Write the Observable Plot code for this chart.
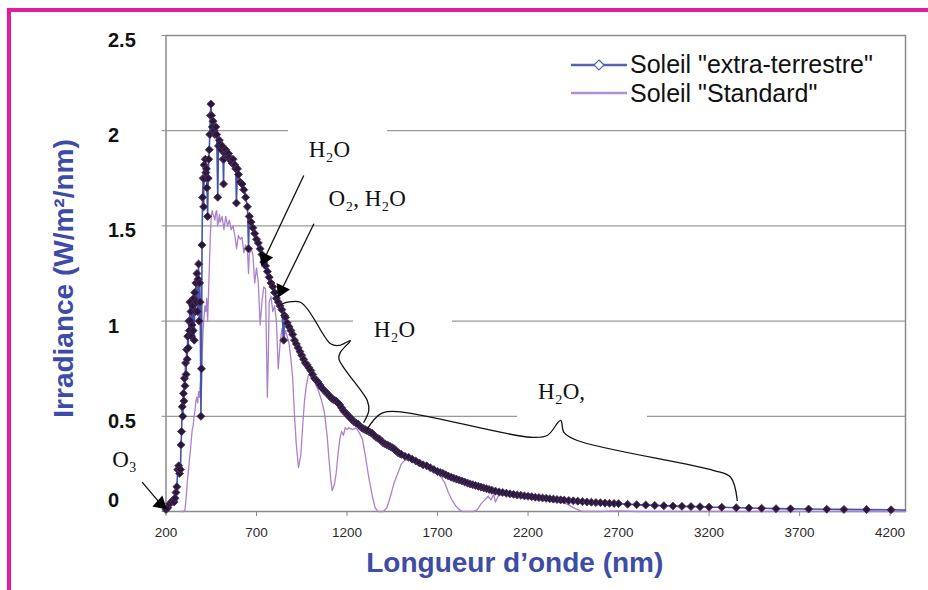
<!DOCTYPE html>
<html><head><meta charset="utf-8">
<script src="https://cdn.jsdelivr.net/npm/d3@7"></script>
<script src="https://cdn.jsdelivr.net/npm/@observablehq/plot@0.6"></script>
<style>
html,body{margin:0;padding:0;background:#fff;}
#wrap{position:relative;width:928px;height:590px;overflow:hidden;background:#fff;font-family:"Liberation Sans",Arial,sans-serif;}
#chart{position:absolute;left:0;top:0;}
.mag-top{position:absolute;left:7px;top:8px;width:921px;height:4px;background:#e31c9c;}
.mag-left{position:absolute;left:7px;top:8px;width:4px;height:582px;background:#e31c9c;}
.leg{position:absolute;font-size:25px;color:#111;white-space:nowrap;line-height:normal;}
.legsw{position:absolute;}
</style></head>
<body>
<div id="wrap"><div id="chart"></div><div class="mag-top"></div><div class="mag-left"></div><div id="legend"></div></div>
<script>
// ---- tick values ----
const xTicks = [200, 700, 1200, 1700, 2200, 2700, 3200, 3700, 4200];
const yTicks = [0, 0.5, 1, 1.5, 2, 2.5];
const xTitle = "Longueur d’onde (nm)";
const yTitle = "Irradiance (W/m²/nm)";
const seriesNames = ['Soleil "extra-terrestre"', 'Soleil "Standard"'];

// ---- series: [wavelength nm, irradiance W/m²/nm] ----
const extraTerrestre = [
[200,0.01],[210,0.02],[220,0.04],[230,0.05],[240,0.06],[245,0.05],[250,0.07],[255,0.1],[260,0.13],[265,0.22],
[270,0.24],[275,0.2],[280,0.22],[283,0.35],[286,0.42],[290,0.55],[293,0.5],[296,0.62],[299,0.58],[302,0.7],
[305,0.66],[308,0.78],[311,0.72],[314,0.85],[317,0.8],[320,0.92],[323,0.86],[326,1.0],[329,0.95],[332,1.1],
[335,1.0],[338,1.05],[341,0.92],[344,0.98],[347,1.08],[350,0.95],[353,1.12],[356,0.9],[359,1.15],[362,1.05],
[365,1.2],[368,1.1],[371,1.25],[374,1.05],[377,1.22],[380,1.3],[383,1.0],[386,1.2],[389,1.1],[393,0.5],
[396,0.75],[399,1.4],[402,1.65],[405,1.75],[408,1.6],[411,1.82],[414,1.75],[417,1.85],[420,1.78],[423,1.8],
[426,1.7],[430,1.55],[433,1.75],[436,1.85],[439,1.9],[442,1.98],[445,2.08],[448,2.14],[452,2.08],[456,2.02],
[460,2.05],[465,2.0],[470,1.98],[475,2.02],[480,1.98],[486,1.65],[490,1.92],[495,1.95],[500,1.93],[505,1.9],
[510,1.92],[515,1.85],[518,1.72],[520,1.85],[525,1.88],[530,1.9],[535,1.88],[540,1.86],[545,1.88],[550,1.86],
[555,1.85],[560,1.84],[565,1.83],[570,1.85],[575,1.82],[580,1.82],[585,1.8],[589,1.62],[595,1.8],[600,1.77],
[610,1.73],[620,1.72],[630,1.69],[640,1.65],[650,1.6],[656,1.38],[660,1.55],[670,1.52],[680,1.49],[690,1.46],
[700,1.43],[710,1.41],[720,1.38],[730,1.35],[740,1.31],[750,1.29],[760,1.26],[770,1.23],[780,1.2],[790,1.18],
[800,1.15],[810,1.12],[820,1.1],[830,1.08],[840,1.06],[850,0.9],[855,1.03],[860,1.02],[870,0.99],[880,0.97],
[890,0.95],[900,0.93],[910,0.9],[920,0.88],[930,0.86],[940,0.84],[950,0.82],[960,0.8],[970,0.78],[980,0.77],
[990,0.755],[1000,0.74],[1010,0.72],[1020,0.7],[1030,0.69],[1040,0.68],[1050,0.665],[1060,0.65],[1070,0.64],[1080,0.63],
[1090,0.62],[1100,0.61],[1110,0.6],[1120,0.59],[1130,0.585],[1140,0.58],[1150,0.57],[1160,0.56],[1170,0.545],[1180,0.53],
[1190,0.52],[1200,0.51],[1210,0.5],[1220,0.49],[1230,0.48],[1240,0.47],[1250,0.465],[1260,0.46],[1270,0.45],[1280,0.44],
[1290,0.435],[1300,0.43],[1310,0.425],[1320,0.42],[1330,0.415],[1340,0.41],[1350,0.4],[1360,0.39],[1370,0.385],[1380,0.38],
[1390,0.37],[1400,0.36],[1410,0.355],[1420,0.35],[1430,0.345],[1440,0.34],[1450,0.335],[1460,0.33],[1470,0.32],[1480,0.31],
[1490,0.305],[1500,0.3],[1520,0.29],[1540,0.285],[1560,0.275],[1580,0.265],[1600,0.255],[1620,0.245],[1640,0.24],[1660,0.23],
[1680,0.22],[1700,0.21],[1715,0.205],[1730,0.2],[1745,0.193],[1760,0.186],[1775,0.18],[1790,0.175],[1805,0.17],[1820,0.165],
[1835,0.16],[1850,0.155],[1865,0.15],[1880,0.145],[1895,0.141],[1910,0.137],[1925,0.132],[1940,0.128],[1955,0.124],[1970,0.12],
[1985,0.116],[2000,0.112],[2020,0.107],[2040,0.103],[2060,0.1],[2080,0.096],[2100,0.093],[2120,0.09],[2140,0.087],[2160,0.085],
[2180,0.082],[2200,0.08],[2220,0.078],[2240,0.075],[2260,0.073],[2280,0.071],[2300,0.069],[2320,0.067],[2340,0.065],[2360,0.063],
[2380,0.061],[2400,0.06],[2425,0.058],[2450,0.056],[2475,0.054],[2500,0.052],[2525,0.05],[2550,0.049],[2575,0.047],[2600,0.046],
[2625,0.044],[2650,0.043],[2675,0.042],[2700,0.041],[2750,0.038],[2800,0.036],[2850,0.034],[2900,0.032],[2950,0.03],[3000,0.029],
[3050,0.027],[3100,0.026],[3150,0.025],[3200,0.023],[3270,0.022],[3350,0.02],[3420,0.018],[3490,0.017],[3570,0.015],[3650,0.014],
[3750,0.013],[3850,0.012],[3945,0.011],[4070,0.01],[4205,0.009],[4285,0.008]
];
const standard = [
[280,0],[300,0],[305,0.01],[310,0.06],[315,0.12],[320,0.18],[325,0.22],[330,0.28],[335,0.32],[340,0.38],
[345,0.43],[350,0.45],[355,0.5],[360,0.53],[365,0.58],[370,0.6],[375,0.57],[380,0.63],[385,0.6],[390,0.68],
[395,0.62],[400,0.82],[405,0.95],[410,1.02],[415,1.08],[420,1.05],[425,1.12],[430,1.0],[435,1.15],[440,1.3],
[445,1.45],[450,1.55],[455,1.58],[460,1.56],[465,1.55],[470,1.53],[475,1.57],[480,1.58],[485,1.5],[490,1.52],
[495,1.56],[500,1.52],[510,1.55],[520,1.48],[530,1.55],[540,1.5],[550,1.53],[560,1.48],[570,1.5],[580,1.45],
[590,1.38],[600,1.45],[610,1.43],[620,1.44],[630,1.36],[640,1.4],[650,1.37],[656,1.25],[660,1.35],[670,1.38],
[680,1.35],[690,1.2],[700,1.28],[710,1.2],[720,0.98],[730,1.1],[740,1.18],[750,1.17],[760,0.6],[765,0.8],
[770,1.1],[780,1.13],[790,1.05],[800,1.08],[810,1.0],[820,0.75],[830,0.88],[840,0.96],[850,0.9],[860,0.95],
[870,0.92],[880,0.88],[890,0.8],[900,0.7],[910,0.5],[920,0.35],[932,0.23],[945,0.3],[955,0.45],[965,0.58],
[975,0.66],[985,0.71],[995,0.72],[1005,0.7],[1020,0.68],[1040,0.64],[1060,0.58],[1075,0.52],[1090,0.4],[1100,0.28],
[1110,0.17],[1118,0.11],[1130,0.14],[1140,0.2],[1150,0.3],[1160,0.38],[1170,0.42],[1180,0.4],[1190,0.44],[1200,0.43],
[1210,0.44],[1230,0.43],[1250,0.44],[1270,0.41],[1285,0.38],[1300,0.3],[1320,0.18],[1340,0.08],[1355,0.02],[1370,0],
[1400,0],[1420,0.02],[1440,0.08],[1460,0.15],[1480,0.2],[1500,0.25],[1520,0.27],[1540,0.27],[1560,0.265],[1580,0.255],
[1600,0.24],[1620,0.235],[1640,0.23],[1660,0.22],[1680,0.21],[1700,0.2],[1720,0.18],[1740,0.15],[1760,0.1],[1780,0.06],
[1800,0.03],[1820,0.01],[1840,0],[1900,0],[1920,0.01],[1940,0.04],[1960,0.06],[1980,0.08],[1995,0.06],[2010,0.09],
[2020,0.05],[2035,0.08],[2060,0.09],[2080,0.085],[2100,0.085],[2150,0.08],[2200,0.075],[2250,0.07],[2300,0.064],[2350,0.055],
[2400,0.045],[2425,0.035],[2450,0.02],[2475,0.01],[2500,0],[2600,0],[2700,0.003],[2800,0],[3000,0],[3500,0],
[4000,0],[4285,0]
];

// ---- annotations (data coordinates) ----
const annotations = [
  {text: "O₃", x: -29, y: 0.273},
  {text: "H₂O", x: 1103, y: 1.901},
  {text: "O₂, H₂O", x: 1312, y: 1.644},
  {text: "H₂O", x: 1462, y: 0.956},
  {text: "H₂O,", x: 2385, y: 0.627}
];
const arrows = [
  {x1: 68, y1: 0.154, x2: 170, y2: 0.04, angle: 132},
  {x1: 961, y1: 1.765, x2: 745, y2: 1.33, angle: 205},
  {x1: 1017, y1: 1.511, x2: 838, y2: 1.163, angle: 205.5}
];
const braces = [
  {id: 1, x: 842, y: 1.091}, {id: 1, x: 943, y: 1.099}, {id: 1, x: 1109, y: 0.881}, {id: 1, x: 1155, y: 0.872},
  {id: 1, x: 1219, y: 0.898}, {id: 1, x: 1164, y: 0.837}, {id: 1, x: 1155, y: 0.802}, {id: 1, x: 1312, y: 0.583},
  {id: 1, x: 1320, y: 0.53}, {id: 1, x: 1293, y: 0.469},
  {id: 2, x: 1312, y: 0.434}, {id: 2, x: 1385, y: 0.513}, {id: 2, x: 1477, y: 0.525}, {id: 2, x: 2214, y: 0.39},
  {id: 2, x: 2306, y: 0.399}, {id: 2, x: 2380, y: 0.478}, {id: 2, x: 2398, y: 0.416}, {id: 2, x: 2472, y: 0.373},
  {id: 2, x: 3227, y: 0.215}, {id: 2, x: 3319, y: 0.18}, {id: 2, x: 3356, y: 0.058}
];
const labelBoxes = [
  {x1: 877, x2: 1424, y1: 1.817, y2: 2.027},
  {x1: 1236, x2: 1783, y1: 0.872, y2: 1.056},
  {x1: 2142, x2: 2860, y1: 0.48, y2: 0.70}
];

const et = extraTerrestre.map(([w, v]) => ({w, v}));
const st = standard.map(([w, v]) => ({w, v}));

const serif = "Liberation Serif, Times New Roman, serif";
const titleBlue = "#3d4ca6";
const tickLabelStyle = {frameAnchor: "left", textAnchor: "start", dx: -58, text: d => String(d), fontSize: 20, fontWeight: "bold", fill: "#111"};

const chart = Plot.plot({
  width: 928, height: 590,
  marginLeft: 165.5, marginRight: 23, marginTop: 35, marginBottom: 79,
  style: {background: "transparent", color: "#8a8a8a", fontFamily: "Liberation Sans, Arial, sans-serif", overflow: "visible"},
  x: {domain: [200, 4285], ticks: xTicks, tickSize: 5, tickFormat: () => "", label: null},
  y: {domain: [0, 2.5], ticks: yTicks, tickSize: 4, tickFormat: () => "", label: null},
  marks: [
    Plot.ruleY(yTicks, {stroke: "#999", strokeWidth: 1.2}),
    Plot.rect(labelBoxes, {x1: "x1", x2: "x2", y1: "y1", y2: "y2", fill: "white"}),
    Plot.frame({stroke: "#8a8a8a", strokeWidth: 1.5}),
    Plot.line(st, {x: "w", y: "v", stroke: "#ab82cc", strokeWidth: 1.3}),
    Plot.line(et, {x: "w", y: "v", stroke: "#4556a8", strokeWidth: 1.6}),
    Plot.dot(et.filter(d => d.w <= 4210), {x: "w", y: "v", symbol: "square", rotate: 45, r: 3.2, fill: "#2a1838", stroke: "#4e3468", strokeWidth: 0.8}),
    Plot.line(braces, {x: "x", y: "y", z: "id", curve: "catmull-rom", stroke: "#111", strokeWidth: 1.3}),
    Plot.link(arrows, {x1: "x1", y1: "y1", x2: "x2", y2: "y2", stroke: "#111", strokeWidth: 1.3}),
    Plot.dot(arrows, {x: "x2", y: "y2", symbol: "triangle", r: 5.5, fill: "#000", stroke: "none", rotate: "angle"}),
    Plot.text(annotations, {x: "x", y: "y", text: "text", fontFamily: serif, fontSize: 23, fill: "#111"}),
    Plot.text(yTicks.filter(d => d > 0), {y: d => d, dy: 5, ...tickLabelStyle}),
    Plot.text(yTicks.filter(d => d === 0), {y: d => d, dy: -11, ...tickLabelStyle}),
    Plot.text(xTicks, {x: d => d, frameAnchor: "bottom", lineAnchor: "middle", dy: 21, text: d => String(d), fontSize: 13.5, fill: "#2a2a2a"}),
    Plot.text([xTitle], {frameAnchor: "bottom", lineAnchor: "middle", dx: -21, dy: 51.5, text: d => d, fontSize: 28, fontWeight: "bold", fill: titleBlue}),
    Plot.text([yTitle], {x: () => -361, y: () => 1.224, rotate: -90, lineAnchor: "middle", text: d => d, fontSize: 28, fontWeight: "bold", fill: titleBlue})
  ]
});
document.getElementById("chart").appendChild(chart);

// ---- legend ----
const legend = document.getElementById("legend");
const legendStyles = [
  {color: "#5264b0", marker: true, lineY: 65, textTop: 50},
  {color: "#b48fd0", marker: false, lineY: 93, textTop: 79}
];
seriesNames.forEach((name, i) => {
  const s = legendStyles[i];
  const sw = document.createElementNS("http://www.w3.org/2000/svg", "svg");
  sw.setAttribute("class", "legsw");
  sw.setAttribute("width", 58); sw.setAttribute("height", 20);
  sw.style.left = "571px"; sw.style.top = (s.lineY - 10) + "px";
  sw.innerHTML = `<line x1="0" x2="56" y1="10" y2="10" stroke="${s.color}" stroke-width="2.5"/>` +
    (s.marker ? `<polygon points="28,5 33,10 28,15 23,10" fill="#fff" stroke="${s.color}" stroke-width="1.2"/>` : "");
  legend.appendChild(sw);
  const t = document.createElement("div");
  t.className = "leg";
  t.style.left = "630px"; t.style.top = s.textTop + "px";
  t.textContent = name;
  legend.appendChild(t);
});
</script>
</body></html>
